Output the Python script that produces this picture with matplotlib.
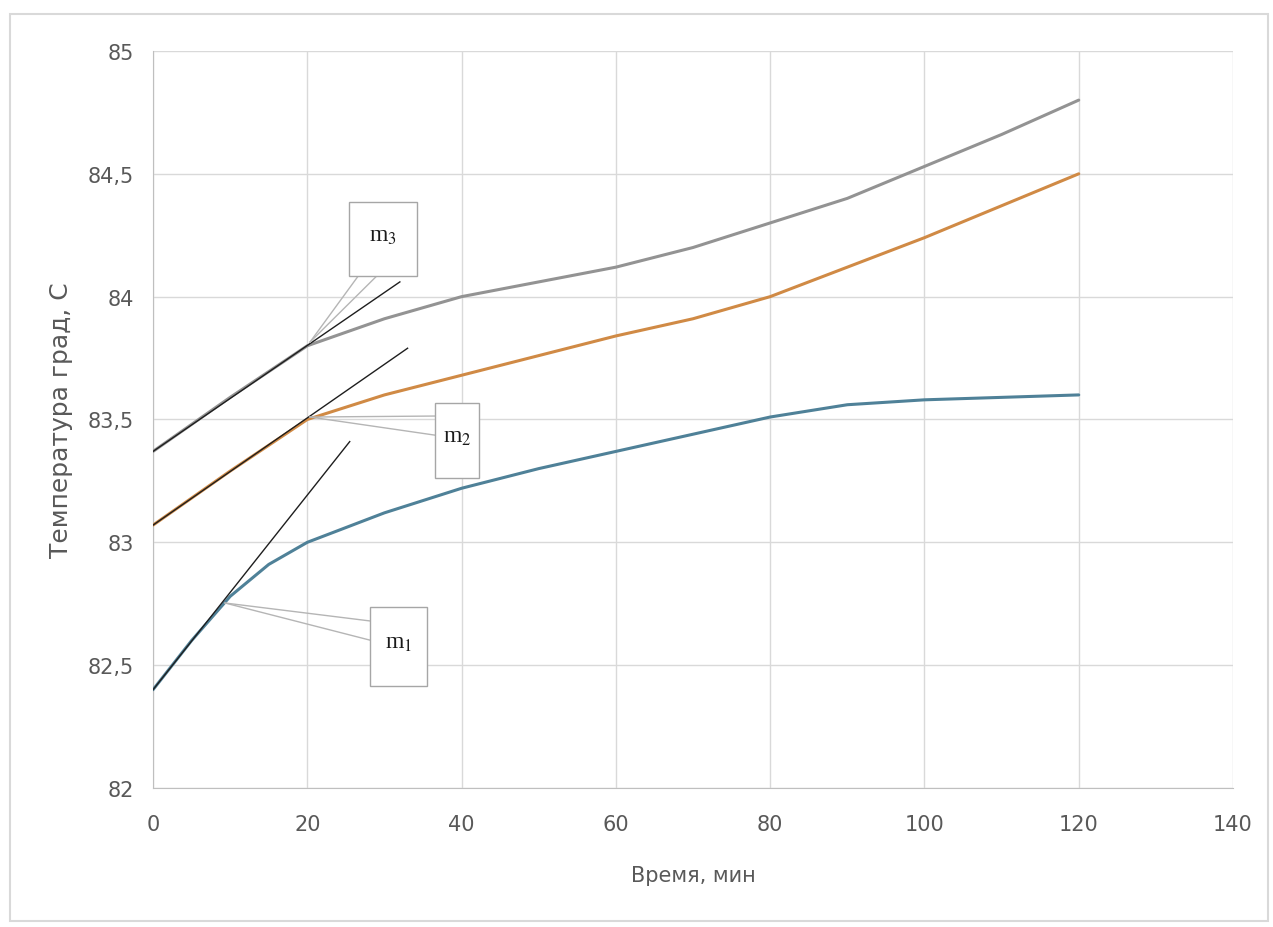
import matplotlib
matplotlib.use("Agg")
import matplotlib.pyplot as plt
from matplotlib.patches import Rectangle

# время, мин
t = [0, 10, 20, 30, 40, 50, 60, 70, 80, 90, 100, 110, 120]
t_m1 = [0, 5, 10, 15, 20, 30, 40, 50, 60, 70, 80, 90, 100, 110, 120]

# температура для трёх режимов
temp_m1 = [82.40, 82.60, 82.78, 82.91, 83.00, 83.12, 83.22, 83.30, 83.37, 83.44, 83.51, 83.56, 83.58, 83.59, 83.60]
temp_m2 = [83.07, 83.29, 83.50, 83.60, 83.68, 83.76, 83.84, 83.91, 84.00, 84.12, 84.24, 84.37, 84.50]
temp_m3 = [83.37, 83.59, 83.80, 83.91, 84.00, 84.06, 84.12, 84.20, 84.30, 84.40, 84.53, 84.66, 84.80]

# касательные на начальном участке: (t0, T0) -> (t1, T1)
tan_m1 = ([0, 25.5], [82.40, 83.41])
tan_m2 = ([0, 33.0], [83.07, 83.79])
tan_m3 = ([0, 32.0], [83.37, 84.06])

xticks = [0, 20, 40, 60, 80, 100, 120, 140]
yticks = [82, 82.5, 83, 83.5, 84, 84.5, 85]
ytick_labels = ["82", "82,5", "83", "83,5", "84", "84,5", "85"]

fig = plt.figure(figsize=(12.73, 9.28), dpi=100)
ax = fig.add_axes([0.1202, 0.1498, 0.8484, 0.7942])

# рамка вокруг всей диаграммы
fig.patches.append(Rectangle((0.008, 0.006), 0.988, 0.978, transform=fig.transFigure,
                             fill=False, edgecolor="#d9d9d9", lw=1.5))

ax.plot(t_m1, temp_m1, color="#4f8198", lw=2.2, solid_capstyle="round", zorder=3)
ax.plot(t, temp_m2, color="#d08a45", lw=2.2, solid_capstyle="round", zorder=3)
ax.plot(t, temp_m3, color="#939393", lw=2.2, solid_capstyle="round", zorder=3)

for tx, ty in (tan_m1, tan_m2, tan_m3):
    ax.plot(tx, ty, color="#1e1e1e", lw=1.0, zorder=4)

ax.set_xlim(0, 140)
ax.set_ylim(82, 85)
ax.set_xticks(xticks)
ax.set_yticks(yticks)
ax.set_yticklabels(ytick_labels)
ax.grid(True, color="#d9d9d9", lw=1.0)
ax.set_axisbelow(True)
for side in ("top", "right"):
    ax.spines[side].set_visible(False)
for side in ("left", "bottom"):
    ax.spines[side].set_color("#bfbfbf")
ax.tick_params(length=0, colors="#595959", labelsize=15)
ax.tick_params(axis="x", pad=19)
ax.tick_params(axis="y", pad=14)

ax.set_xlabel("Время, мин", fontsize=15, color="#595959", labelpad=22)
ax.set_ylabel("Температура град, С", fontsize=18, color="#595959", labelpad=10)

# выноски с обозначениями
plt.rcParams["mathtext.fontset"] = "stix"
callouts = [
    # текст, вершина, две точки основания, прямоугольник (x0, y0, x1, y1)
    ("m$_3$", (20.35, 83.815), [(26.6, 84.084), (29.0, 84.084)], (25.4, 84.084, 34.2, 84.385)),
    ("m$_2$", (20.35, 83.51), [(36.6, 83.514), (36.6, 83.436)], (36.6, 83.262, 42.3, 83.567)),
    ("m$_1$", (9.33, 82.753), [(28.1, 82.680), (28.1, 82.602)], (28.1, 82.415, 35.5, 82.737)),
]
for label, apex, base, box in callouts:
    for bx, by in base:
        ax.plot([apex[0], bx], [apex[1], by], color="#b5b5b5", lw=1.0, zorder=5)
    x0, y0, x1, y1 = box
    ax.add_patch(Rectangle((x0, y0), x1 - x0, y1 - y0, facecolor="white",
                           edgecolor="#a6a6a6", lw=1.0, zorder=6))
    ax.text((x0 + x1) / 2, y0 + (y1 - y0) * 0.55, label, ha="center", va="center",
            fontsize=17, family="Liberation Serif", color="#1a1a1a", zorder=7)

fig.savefig("out.png", dpi=100, facecolor="white")
